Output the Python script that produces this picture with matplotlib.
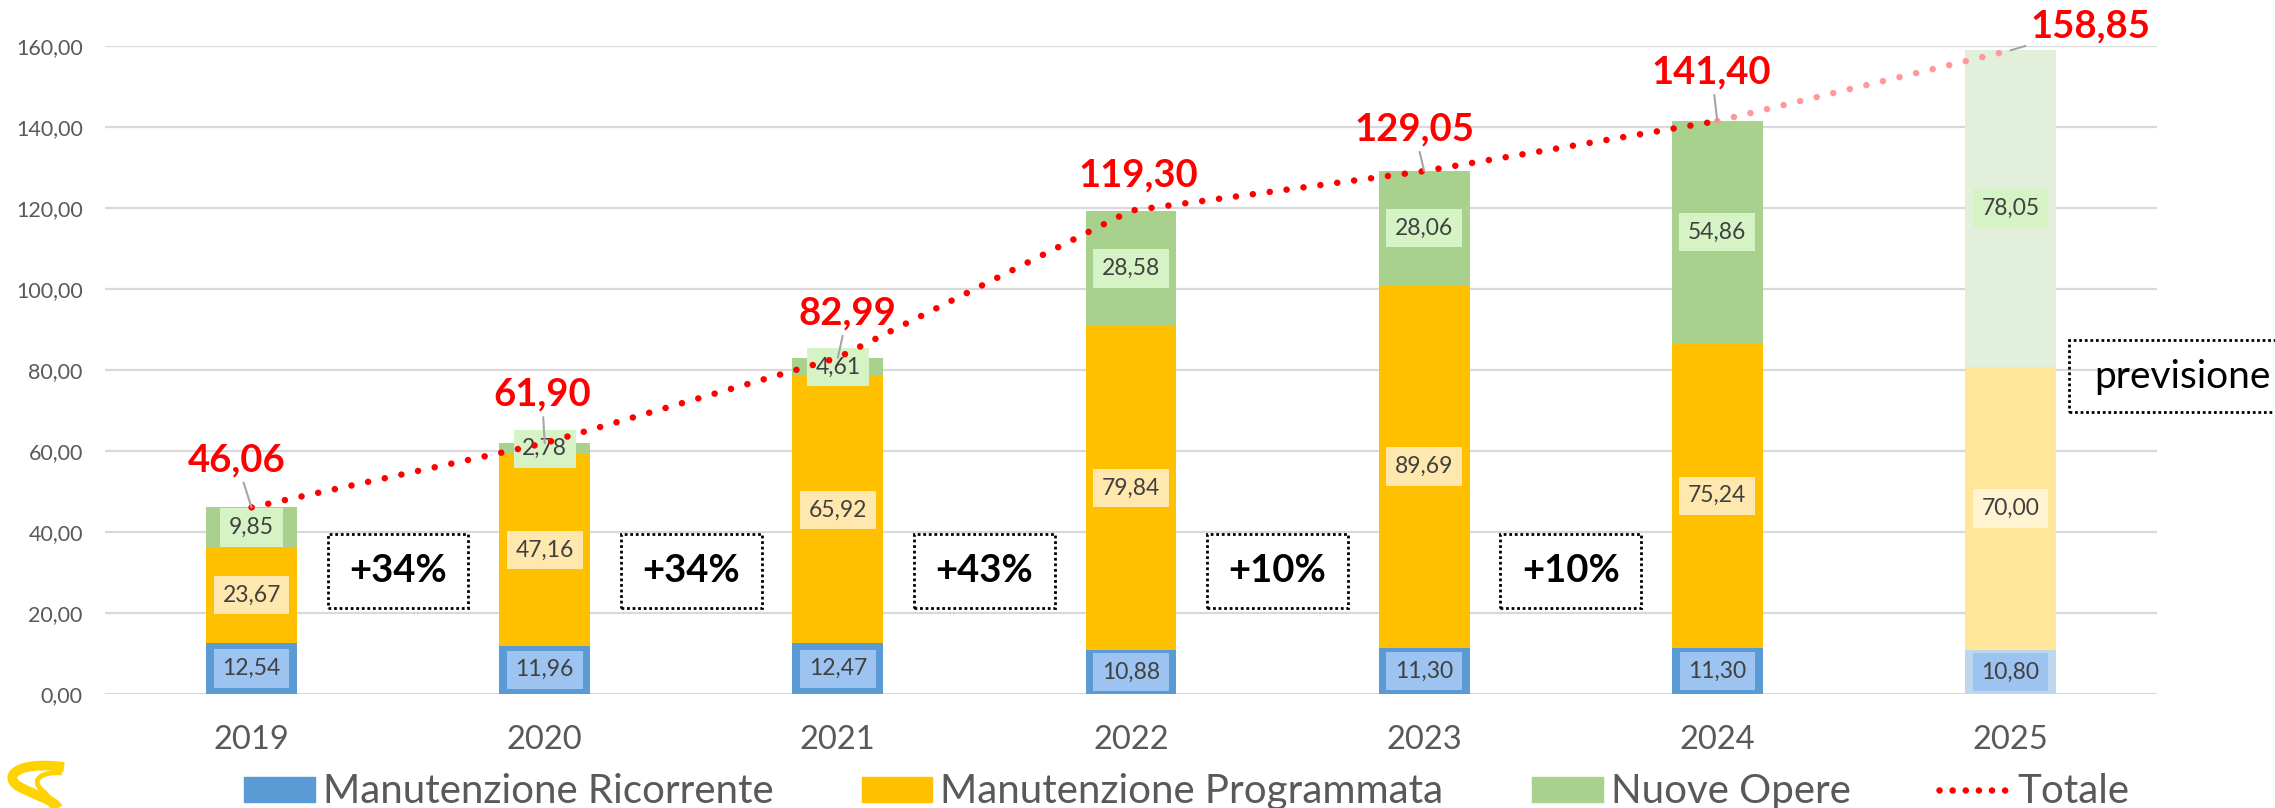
import matplotlib
matplotlib.use('Agg')
import matplotlib.pyplot as plt
from matplotlib.patches import Rectangle, Patch, PathPatch
from matplotlib.lines import Line2D
from matplotlib.path import Path

plt.rcParams['font.family'] = ['Lato', 'DejaVu Sans']

# valori (milioni di euro)
years = ['2019', '2020', '2021', '2022', '2023', '2024', '2025']
ricorrente = [12.54, 11.96, 12.47, 10.88, 11.30, 11.30, 10.80]
programmata = [23.67, 47.16, 65.92, 79.84, 89.69, 75.24, 70.00]
nuove = [9.85, 2.78, 4.61, 28.58, 28.06, 54.86, 78.05]
totale = [46.06, 61.90, 82.99, 119.30, 129.05, 141.40, 158.85]
growth = ['+34%', '+34%', '+43%', '+10%', '+10%']


def fmt(v):
    return '{:.2f}'.format(v).replace('.', ',')


c_ric = ['#5B9BD5'] * 6 + ['#BDD7EE']
c_prog = ['#FFC000'] * 6 + ['#FFE699']
c_nuo = ['#A9D18E'] * 6 + ['#E2EFDA']
lbl_ric = ['#9DC3F0'] * 7
lbl_prog = ['#FFE8AE'] * 6 + ['#FFF3D2']
lbl_nuo = ['#D6F3C6'] * 7

fig = plt.figure(figsize=(22.75, 8.08), dpi=100)
ax = fig.add_axes([105 / 2275, 1 - 694 / 808, (2157 - 105) / 2275, (694 - 45.7) / 808])

x = list(range(len(years)))
w = 0.31
bottom2 = [a + b for a, b in zip(ricorrente, programmata)]
ax.bar(x, ricorrente, w, color=c_ric, zorder=2)
ax.bar(x, programmata, w, bottom=ricorrente, color=c_prog, zorder=2)
ax.bar(x, nuove, w, bottom=bottom2, color=c_nuo, zorder=2)

# etichette dentro le barre
for i in x:
    segs = [(ricorrente[i], 0, lbl_ric[i]),
            (programmata[i], ricorrente[i], lbl_prog[i]),
            (nuove[i], bottom2[i], lbl_nuo[i])]
    for val, base, bg in segs:
        ax.text(i, base + val / 2, fmt(val), ha='center', va='center', fontsize=16.5,
                color='#404040', zorder=4,
                bbox=dict(boxstyle='square,pad=0.38', fc=bg, ec='none'))

# linea del totale
ax.plot(x[:6], totale[:6], color='#FF0000', lw=4.7, linestyle=(0, (0.01, 2.6)),
        dash_capstyle='round', zorder=5)
ax.plot(x[5:], totale[5:], color='#FF9999', lw=4.7, linestyle=(0, (0.01, 2.6)),
        dash_capstyle='round', zorder=5)

offsets = [(-11, 34), (-2, 35), (7, 32), (5, 25), (-7, 30), (-4, 35), (58, 17)]
for i, (dx, dy) in enumerate(offsets):
    arrow = None if i == 3 else dict(arrowstyle='-', color='#A6A6A6', lw=1.5, shrinkA=2, shrinkB=0)
    ax.annotate(fmt(totale[i]), (i, totale[i]), xytext=(dx, dy), textcoords='offset points',
                ha='center', va='center', fontsize=27.5, fontweight='bold', color='#FF0000',
                zorder=6, arrowprops=arrow, annotation_clip=False)

# riquadri di crescita
for k, g in enumerate(growth):
    mid = k + 0.5
    ax.add_patch(Rectangle((mid - 0.24, 21.2), 0.48, 18.3, fill=False, ec='black', lw=2,
                           linestyle=(0, (1, 1)), zorder=3))
    ax.text(mid, 30.4, g, ha='center', va='center', fontsize=27.5, fontweight='bold',
            color='black', zorder=4)

ax.add_patch(Rectangle((6.2, 69.6), 0.8, 17.8, fill=False, ec='black', lw=2,
                       linestyle=(0, (1, 1)), zorder=3, clip_on=False))
ax.text(6.285, 78.3, 'previsione', ha='left', va='center', fontsize=28, color='black',
        zorder=4, clip_on=False)

ax.set_xlim(-0.5, 6.5)
ax.set_ylim(0, 160)
ax.set_yticks(range(0, 161, 20))
ax.set_yticklabels([fmt(v) for v in range(0, 161, 20)])
ax.set_xticks(x)
ax.set_xticklabels(years)
ax.tick_params(axis='y', length=0, pad=16, labelsize=15.5, labelcolor='#595959')
ax.tick_params(axis='x', length=0, pad=22, labelsize=23.5, labelcolor='#595959')
ax.yaxis.grid(True, color='#D9D9D9', lw=1.6, zorder=0)
ax.set_axisbelow(True)
for s in ax.spines.values():
    s.set_visible(False)

# legenda
handles = [Patch(color='#5B9BD5'), Patch(color='#FFC000'), Patch(color='#A9D18E'),
           Line2D([], [], color='#FF0000', lw=4.7, linestyle=(0, (0.01, 2.0)),
                  dash_capstyle='round')]
labels = ['Manutenzione Ricorrente', 'Manutenzione Programmata', 'Nuove Opere', 'Totale']
fig.legend(handles, labels, loc='center', bbox_to_anchor=(0.5217, 0.02), ncol=4,
           frameon=False, fontsize=29, handlelength=1.75, handleheight=0.57,
           handletextpad=0.2, columnspacing=2.2, labelcolor='#595959',
           borderpad=0, borderaxespad=0)

# logo (approssimato)
lax = fig.add_axes([0, 0, 70 / 2275, 50 / 808])
lax.set_xlim(0, 70)
lax.set_ylim(0, 50)
lax.axis('off')
outer = Path([(64, 41), (20, 47), (2, 33), (18, 22), (36, 12), (54, 8), (58, 0)],
             [Path.MOVETO] + [Path.CURVE4] * 6)
inner = Path([(62, 35), (42, 37), (30, 28), (42, 18), (50, 11), (53, 5), (51, 0)],
             [Path.MOVETO] + [Path.CURVE4] * 6)
lax.add_patch(PathPatch(outer, fill=False, ec='#FFD200', lw=7, capstyle='butt'))
lax.add_patch(PathPatch(inner, fill=False, ec='#FFD200', lw=3.5, capstyle='butt'))

fig.savefig('out.png', dpi=100)
